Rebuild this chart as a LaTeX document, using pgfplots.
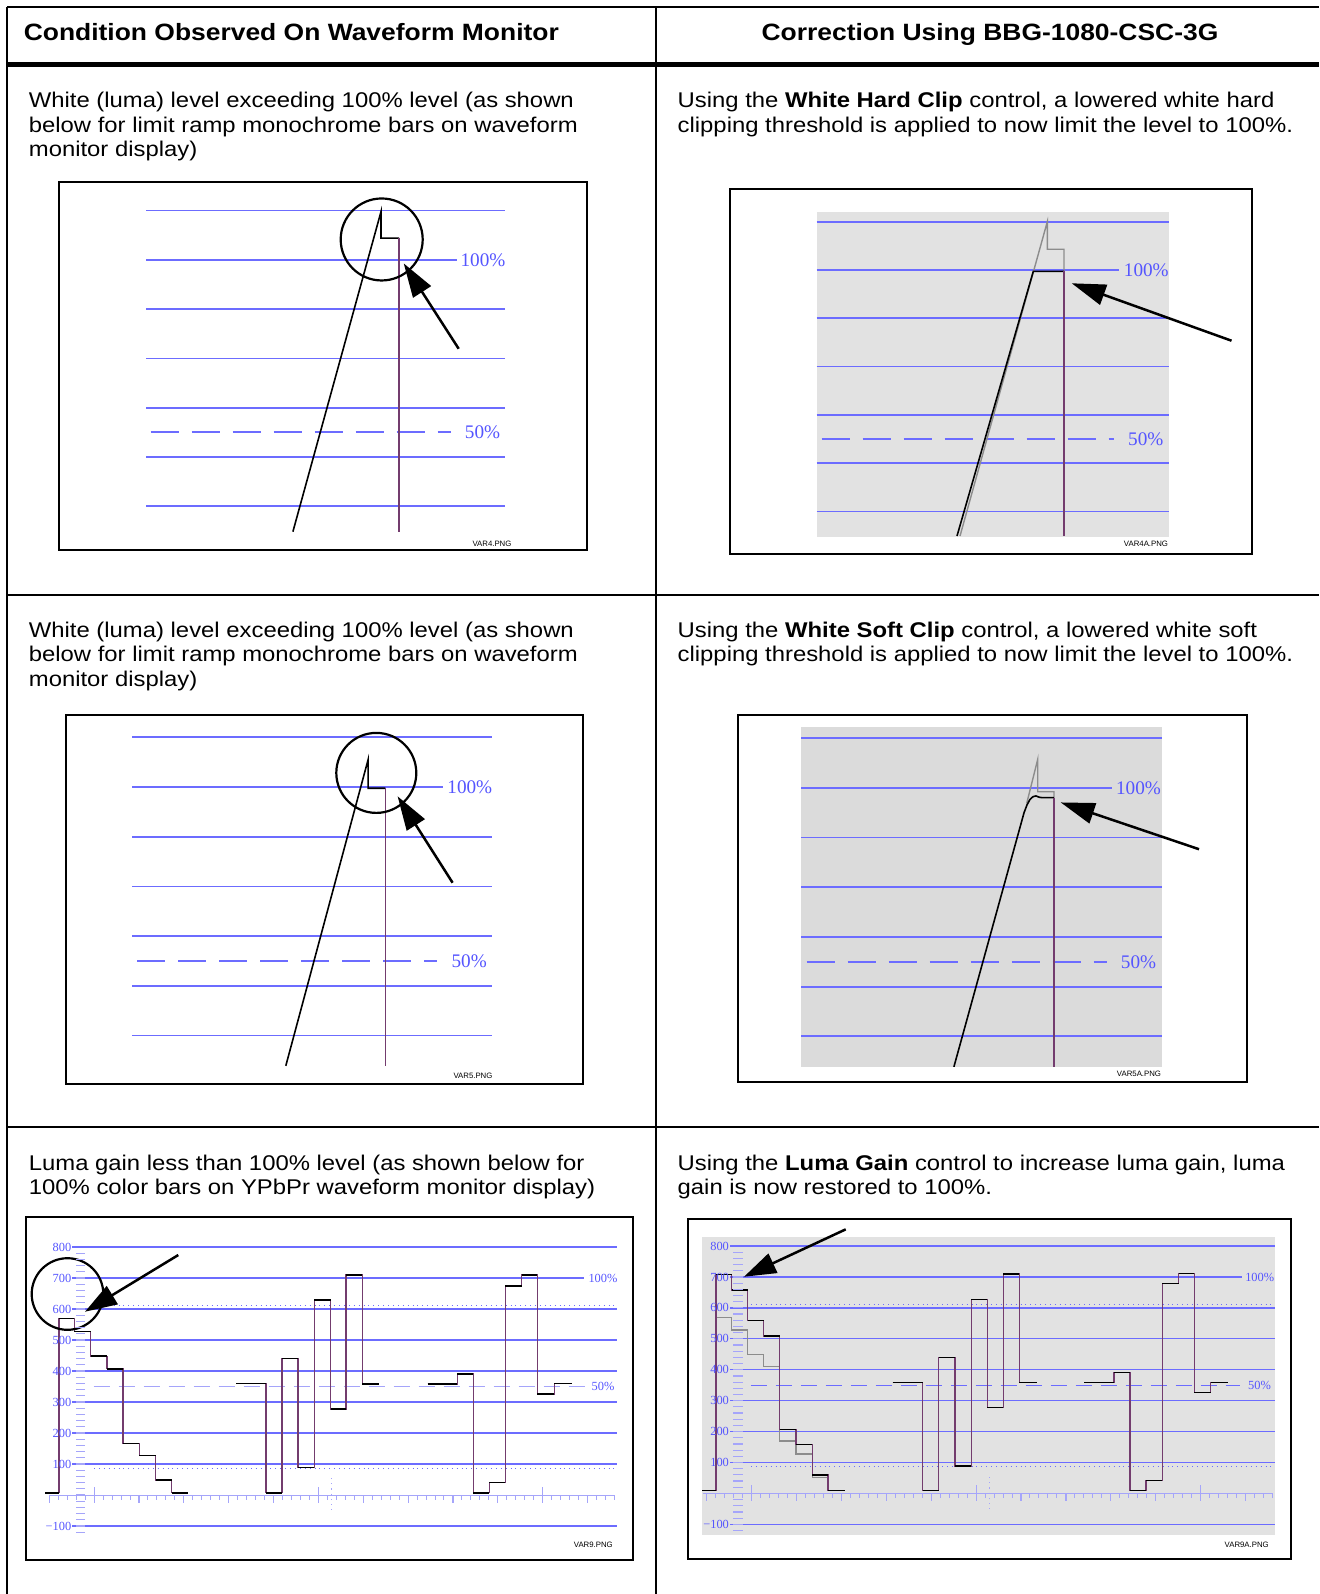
\documentclass[border=0pt]{standalone}
\usepackage{pgfplots}
\pgfplotsset{compat=1.18}
\usetikzlibrary{arrows.meta}
\usepackage{fontspec}
\setmainfont{Liberation Sans}[FakeStretch=1.12]
\newfontfamily\wfserif{Liberation Serif}
\newfontfamily\plainsans{Liberation Sans}

\definecolor{wfblue}{RGB}{108,108,255}
\definecolor{wflabel}{RGB}{85,85,255}
\definecolor{wftick}{RGB}{165,165,250}
\definecolor{bggray}{RGB}{226,226,226}
\definecolor{bggraydk}{RGB}{219,219,219}
\definecolor{trace}{RGB}{115,60,110}
\definecolor{orig}{RGB}{140,140,140}

\pgfplotsset{
  monitor/.style={scale only axis, anchor=south west, clip=false, no markers,
    axis line style={line width=1pt, black}, xtick=\empty, ytick=\empty},
  grat/.style={wfblue, line width=0.85pt, forget plot},
}
% horizontal graticule line: \hl[style]{x from}{x to}{level}
\newcommand\hl[4][]{\addplot[grat,#1] coordinates {(#2,#4) (#3,#4)};}
% waveform: purple transitions, black levels
\newcommand\sig[1]{%
  \addplot[trace, const plot mark left, line width=0.55pt] coordinates {#1};
  \addplot[black, jump mark left, line width=0.75pt] coordinates {#1};}
\newcommand\body{\fontsize{10.65}{12.2}\selectfont}
\tikzset{
  bluelab/.style={wflabel, inner sep=0, font={\wfserif\fontsize{9.6}{10}\selectfont}},
  smlab/.style={wflabel, inner sep=0, font={\wfserif\fontsize{6.2}{6.2}\selectfont}},
  fname/.style={inner sep=0, font={\plainsans\fontsize{3.9}{4}\selectfont}},
  txt/.style={anchor=base west, inner sep=0, font=\body},
  bigarrow/.style={line width=1.25pt, -{Triangle[length=17pt,width=10.5pt]}},
}

\begin{document}
\begin{tikzpicture}
\begin{scope}[x=0.5pt, y=-0.5pt]
\path[use as bounding box] (0,0) rectangle (1319,1594);

% table rules
\draw[line width=1pt] (7,7) -- (1319,7);
\draw[line width=0.9pt] (7,7) -- (7,1594);
\draw[line width=0.9pt] (656,7) -- (656,1594);
\draw[line width=2.5pt] (7,65) -- (1319,65);
\draw[line width=0.8pt] (7,595) -- (1319,595);
\draw[line width=0.8pt] (7,1127) -- (1319,1127);

% headings
\node[anchor=base west, inner sep=0] at (23.4,40.5) {\bfseries\fontsize{11.8}{14}\selectfont Condition Observed On Waveform Monitor};
\node[anchor=base, inner sep=0] at (990,40.5) {\bfseries\fontsize{11.8}{14}\selectfont Correction Using BBG-1080-CSC-3G};

% row texts
\node[txt] at (28.5,107.7) {White (luma) level exceeding 100\% level (as shown};
\node[txt] at (28.5,132.1) {below for limit ramp monochrome bars on waveform};
\node[txt] at (28.5,156.5) {monitor display)};
\node[txt] at (677.3,107.7) {Using the \textbf{White Hard Clip} control, a lowered white hard};
\node[txt] at (677.3,132.1) {clipping threshold is applied to now limit the level to 100\%.};

\node[txt] at (28.5,637.5) {White (luma) level exceeding 100\% level (as shown};
\node[txt] at (28.5,661.9) {below for limit ramp monochrome bars on waveform};
\node[txt] at (28.5,686.3) {monitor display)};
\node[txt] at (677.3,637.5) {Using the \textbf{White Soft Clip} control, a lowered white soft};
\node[txt] at (677.3,661.9) {clipping threshold is applied to now limit the level to 100\%.};

\node[txt] at (28.5,1170.4) {Luma gain less than 100\% level (as shown below for};
\node[txt] at (28.5,1194.8) {100\% color bars on YPbPr waveform monitor display)};
\node[txt] at (677.3,1170.4) {Using the \textbf{Luma Gain} control to increase luma gain, luma};
\node[txt] at (677.3,1194.8) {gain is now restored to 100\%.};
\end{scope}

% ---------- panel 1 : VAR4 ----------
\begin{axis}[monitor, at={(29.5pt,-275.1pt)}, width=264pt, height=184.1pt,
  xmin=59, xmax=587, ymin=110.9, ymax=857.8]
\hl{146.4}{505.4}{800}
\hl{146.4}{456.6}{700}
\hl{146.4}{505.4}{600}
\hl{146.4}{505.4}{500}
\hl{146.4}{505.4}{400}
\hl[dash pattern=on 14pt off 6.5pt]{150.5}{450.5}{350}
\hl{146.4}{505.4}{300}
\hl{146.4}{505.4}{200}
\addplot[black, line width=0.8pt] coordinates {(292.9,148.5) (381,797.6) (381,744) (399,744)};
\addplot[trace, line width=0.6pt] coordinates {(399,744) (399,148.5)};
\node[bluelab] at (axis cs:483,700) {100\%};
\node[bluelab] at (axis cs:482.5,350) {50\%};
\draw[line width=1.1pt] (axis cs:381.7,741.2) circle[radius=20.5pt];
\draw[bigarrow] (axis cs:458.7,519.5) -- (axis cs:403.7,692.7);
\node[fname] at (axis cs:492,123.5) {VAR4.PNG};
\end{axis}

% ---------- panel 2 : VAR4A ----------
\begin{axis}[monitor, at={(365.1pt,-277.15pt)}, width=260.85pt, height=182.55pt,
  xmin=730.2, xmax=1251.9, ymin=111.4, ymax=867.3]
\fill[bggray] (axis cs:816.6,147.2) rectangle (axis cs:1168.5,821.1);
\hl{816.6}{1168.5}{800}
\hl{816.6}{1118.7}{700}
\hl{816.6}{1168.5}{600}
\hl{816.6}{1168.5}{500}
\hl{816.6}{1168.5}{400}
\hl[dash pattern=on 14pt off 6.5pt]{821.7}{1113.6}{350}
\hl{816.6}{1168.5}{300}
\hl{816.6}{1168.5}{200}
\addplot[orig, line width=0.7pt] coordinates {(960,149.3) (1047.3,800) (1047.3,742.9) (1064,742.9) (1064,697.3)};
\addplot[black, line width=0.8pt] coordinates {(957,149.3) (1033.3,697.3) (1064,697.3)};
\addplot[trace, line width=0.6pt] coordinates {(1064,697.3) (1064,149.3)};
\node[bluelab] at (axis cs:1146.3,700) {100\%};
\node[bluelab] at (axis cs:1145.8,350) {50\%};
\draw[bigarrow] (axis cs:1231.5,553.6) -- (axis cs:1071.7,672.5);
\node[fname] at (axis cs:1146,132.7) {VAR4A.PNG};
\end{axis}

% ---------- panel 3 : VAR5 ----------
\begin{axis}[monitor, at={(33.05pt,-542.05pt)}, width=258.3pt, height=184.55pt,
  xmin=66.1, xmax=582.7, ymin=102.2, ymax=844.9]
\hl{132.2}{492.2}{800}
\hl{132.2}{443.4}{700}
\hl{132.2}{492.2}{600}
\hl{132.2}{492.2}{500}
\hl{132.2}{492.2}{400}
\hl[dash pattern=on 14pt off 6.5pt]{137.3}{437.3}{350}
\hl{132.2}{492.2}{300}
\hl{132.2}{492.2}{200}
\addplot[black, line width=0.8pt] coordinates {(285.8,139) (368.1,755) (368.1,697.6) (385.4,697.6)};
\addplot[trace, line width=0.6pt] coordinates {(385.4,697.6) (385.4,139)};
\node[bluelab] at (axis cs:469.8,700) {100\%};
\node[bluelab] at (axis cs:469.2,350) {50\%};
\draw[line width=1.1pt] (axis cs:376.3,728.4) circle[radius=20pt];
\draw[bigarrow] (axis cs:452.6,507.4) -- (axis cs:397.6,681.3);
\node[fname] at (axis cs:473,118.5) {VAR5.PNG};
\end{axis}

% ---------- panel 4 : VAR5A ----------
\begin{axis}[monitor, at={(369.15pt,-541pt)}, width=254.25pt, height=183.5pt,
  xmin=738.3, xmax=1246.8, ymin=108.0, ymax=846.9]
\fill[bggraydk] (axis cs:801.4,138.6) rectangle (axis cs:1162.4,822.5);
\hl{801.4}{1162.4}{800}
\hl{801.4}{1111.6}{700}
\hl{801.4}{1162.4}{600}
\hl{801.4}{1162.4}{500}
\hl{801.4}{1162.4}{400}
\hl[dash pattern=on 14pt off 6.5pt]{806.5}{1106.5}{350}
\hl{801.4}{1162.4}{300}
\hl{801.4}{1162.4}{200}
\addplot[orig, line width=0.7pt] coordinates {(1026.7,669.1) (1037.7,757.7) (1037.7,692.5) (1054,692.5) (1054,680.5)};
\addplot[black, line width=0.8pt] coordinates {(953.9,138.6) (1024,650) (1027,666) (1030,677) (1033,682.5) (1036,684) (1039,681.5) (1042,680.5) (1054,680.5)};
\addplot[trace, line width=0.6pt] coordinates {(1054,680.5) (1054,138.6)};
\node[bluelab] at (axis cs:1138.5,700) {100\%};
\node[bluelab] at (axis cs:1138.5,350) {50\%};
\draw[bigarrow] (axis cs:1199,576.7) -- (axis cs:1060.7,670.9);
\node[fname] at (axis cs:1139,124.1) {VAR5A.PNG};
\end{axis}

% ---------- panel 5 : VAR9 ----------
\begin{axis}[monitor, at={(13.2pt,-780.05pt)}, width=303.1pt, height=171.4pt,
  xmin=26.4, xmax=632.6, ymin=-210, ymax=895.8]
\hl[line width=0.65pt]{72}{617.3}{800}
\hl[line width=0.65pt]{72}{583.7}{700}
\hl[line width=0.65pt]{72}{617.3}{600}
\hl[line width=0.65pt]{72}{617.3}{500}
\hl[line width=0.65pt]{72}{617.3}{400}
\hl[line width=0.65pt]{72}{617.3}{300}
\hl[line width=0.65pt]{72}{617.3}{200}
\hl[line width=0.65pt]{72}{617.3}{100}
\hl[line width=0.65pt]{72}{617.3}{-100}
\hl[line width=0.45pt, dotted]{94}{617}{610}
\hl[line width=0.45pt, dotted]{94}{617}{87}
\hl[wftick, line width=0.7pt, dash pattern=on 8pt off 4.5pt]{93.6}{584.8}{350}
\sig{(45,7) (59,569) (74.3,527) (90.7,448) (107,407) (123,167) (139.3,127) (155.7,48) (171.7,7) (188.3,7)}
\sig{(236,359) (266,7) (282,440) (298,88) (314.3,629) (330.7,277) (346,710) (362.3,358) (379.3,358)}
\sig{(427.7,358) (457.3,391) (473.3,7) (489.3,41) (505.3,675) (521.7,710) (537.3,326) (554.3,359) (571.7,359)}
\node[smlab, anchor=east] at (axis cs:71.7,800) {800};
\node[smlab, anchor=east] at (axis cs:71.7,700) {700};
\node[smlab, anchor=east] at (axis cs:71.7,600) {600};
\node[smlab, anchor=east] at (axis cs:71.7,500) {500};
\node[smlab, anchor=east] at (axis cs:71.7,400) {400};
\node[smlab, anchor=east] at (axis cs:71.7,300) {300};
\node[smlab, anchor=east] at (axis cs:71.7,200) {200};
\node[smlab, anchor=east] at (axis cs:71.7,100) {100};
\node[smlab, anchor=east] at (axis cs:71.7,-100) {−100};
\node[smlab] at (axis cs:603,700) {100\%};
\node[smlab] at (axis cs:603,350) {50\%};
\draw[line width=1.1pt] (axis cs:67.5,648.4) circle[radius=17.9pt];
\draw[line width=1.25pt, -{Triangle[length=16pt,width=10.5pt]}] (axis cs:178.3,774.2) -- (axis cs:85,591.3);
\node[fname] at (axis cs:593.3,-161.3) {VAR9.PNG};
\end{axis}

% ---------- panel 6 : VAR9A ----------
\begin{axis}[monitor, at={(343.75pt,-779.5pt)}, width=301.5pt, height=169.8pt,
  xmin=687.5, xmax=1290.5, ymin=-212.2, ymax=886.2]
\fill[bggray] (axis cs:702,-134.5) rectangle (axis cs:1275,830.2);
\hl[line width=0.65pt]{730}{1275}{800}
\hl[line width=0.65pt]{730}{1241.7}{700}
\hl[line width=0.65pt]{730}{1275}{600}
\hl[line width=0.65pt]{730}{1275}{500}
\hl[line width=0.65pt]{730}{1275}{400}
\hl[line width=0.65pt]{730}{1275}{300}
\hl[line width=0.65pt]{730}{1275}{200}
\hl[line width=0.65pt]{730}{1275}{100}
\hl[line width=0.65pt]{730}{1275}{-100}
\hl[line width=0.45pt, dotted]{751}{1275}{611.6}
\hl[line width=0.45pt, dotted]{751}{1275}{86.4}
\hl[line width=0.7pt, dash pattern=on 8pt off 4.5pt]{750.7}{1240}{350}
\addplot[orig, const plot mark left, line width=0.7pt] coordinates {(716,569.5) (731.7,528.5) (747.7,449.9) (763.7,409.8) (779.7,169.5) (796,127.4) (812.3,50.8) (828,50.8)};
\sig{(702,8.7) (716,708.6) (731.7,657.8) (747.7,559.8) (763.7,509) (779.7,207.3) (796,157.5) (812.3,59.5) (828,8.7) (845.3,8.7)}
\sig{(892.7,359.3) (922.7,8.7) (938.7,440.2) (955,88.6) (971.3,627.8) (987.3,277.2) (1003.3,709.6) (1019.3,358) (1036.7,358)}
\sig{(1084.3,358) (1114,391.7) (1130,8.7) (1146,41) (1162.3,678.2) (1178.7,710.5) (1194.3,325.7) (1210.7,359.3) (1228.3,359.3)}
\node[smlab, anchor=east] at (axis cs:729.3,800) {800};
\node[smlab, anchor=east] at (axis cs:729.3,700) {700};
\node[smlab, anchor=east] at (axis cs:729.3,600) {600};
\node[smlab, anchor=east] at (axis cs:729.3,500) {500};
\node[smlab, anchor=east] at (axis cs:729.3,400) {400};
\node[smlab, anchor=east] at (axis cs:729.3,300) {300};
\node[smlab, anchor=east] at (axis cs:729.3,200) {200};
\node[smlab, anchor=east] at (axis cs:729.3,100) {100};
\node[smlab, anchor=east] at (axis cs:729.3,-100) {−100};
\node[smlab] at (axis cs:1259.7,700) {100\%};
\node[smlab] at (axis cs:1259.5,350) {50\%};
\draw[line width=1.25pt, -{Triangle[length=16pt,width=10.5pt]}] (axis cs:845.7,854.1) -- (axis cs:744,700.8);
\node[fname] at (axis cs:1246.7,-166.9) {VAR9A.PNG};
\end{axis}

\begin{scope}[x=0.5pt, y=-0.5pt]
% graticule ticks, panel 5
\draw[wftick, line width=0.5pt] (49.3,1495) -- (615,1495);
\foreach \k in {0,...,63} \draw[wftick, line width=0.5pt] ({49.3+8.97*\k},1495) -- ++(0,5);
\foreach \k in {0,...,12} \draw[wftick, line width=0.6pt] ({49.3+44.85*\k},1495) -- ++(0,8);
\foreach \xx in {94.15,318.4,542.65} \draw[wftick, line width=0.6pt] (\xx,1487) -- (\xx,1503);
\draw[wftick, line width=0.6pt, dotted] (331.7,1478) -- (331.7,1512);
\foreach \k in {0,...,45} \draw[wftick, line width=0.6pt] (76,{1532.2-6.2*\k}) -- (85,{1532.2-6.2*\k});
% graticule ticks, panel 6
\draw[wftick, line width=0.5pt] (702.7,1493.4) -- (1271.7,1493.4);
\foreach \k in {0,...,63} \draw[wftick, line width=0.5pt] ({706.7+8.98*\k},1493.4) -- ++(0,5);
\foreach \k in {0,...,12} \draw[wftick, line width=0.6pt] ({706.7+44.9*\k},1493.4) -- ++(0,8);
\foreach \xx in {751.6,976.1,1200.6} \draw[wftick, line width=0.6pt] (\xx,1485.4) -- (\xx,1501.4);
\draw[wftick, line width=0.6pt, dotted] (989.3,1477) -- (989.3,1511);
\foreach \k in {0,...,45} \draw[wftick, line width=0.6pt] (733.3,{1530.5-6.184*\k}) -- (742.7,{1530.5-6.184*\k});
\end{scope}
\end{tikzpicture}
\end{document}
